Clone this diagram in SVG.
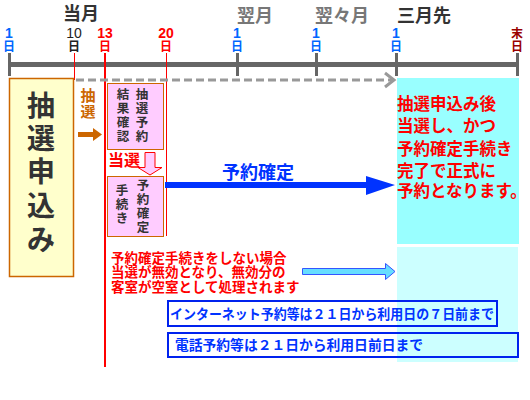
<svg xmlns="http://www.w3.org/2000/svg" width="530" height="400" viewBox="0 0 530 400">
<style>
.j{font-family:"Noto Sans CJK JP","Noto Sans",sans-serif;font-weight:bold}
.d{font-family:"Liberation Sans",Arial,sans-serif;font-size:14px;text-anchor:middle}
.m{text-anchor:middle}
</style>
<rect width="530" height="400" fill="#fff"/>
<!-- cyan areas -->
<rect x="397" y="78" width="122" height="166" fill="#99ffff"/>
<rect x="397" y="247" width="121" height="115" fill="#ccffff"/>
<!-- month labels -->
<g id="months" class="j" font-size="18">
<text x="63" y="20" fill="#333">当月</text>
<text x="237" y="22" fill="#777">翌月</text>
<text x="315" y="22" fill="#777">翌々月</text>
<text x="397" y="22" fill="#333">三月先</text>
</g>
<!-- day labels -->
<g id="days">
<text class="d" x="9" y="38" fill="#0066ff" font-weight="bold">1</text>
<text class="d" x="74" y="38" fill="#222">10</text>
<text class="d" x="105" y="38" fill="#ff0000" font-weight="bold">13</text>
<text class="d" x="166" y="38" fill="#ff0000" font-weight="bold">20</text>
<text class="d" x="237" y="38" fill="#0066ff" font-weight="bold">1</text>
<text class="d" x="316" y="38" fill="#0066ff" font-weight="bold">1</text>
<text class="d" x="396" y="38" fill="#0066ff" font-weight="bold">1</text>
<text class="j m" x="517" y="37.5" font-size="12" fill="#990000">末</text>
<g class="j m" font-size="12">
<text x="9" y="51" fill="#0066ff">日</text>
<text x="74" y="51" fill="#222">日</text>
<text x="105" y="51" fill="#ff0000">日</text>
<text x="166" y="51" fill="#ff0000">日</text>
<text x="237" y="51" fill="#0066ff">日</text>
<text x="316" y="51" fill="#0066ff">日</text>
<text x="396" y="51" fill="#0066ff">日</text>
<text x="517" y="51" fill="#990000">日</text>
</g>
</g>
<!-- timeline -->
<g id="timeline" stroke="#666" stroke-width="3">
<line x1="8" y1="64.5" x2="519" y2="64.5" stroke-width="5"/>
<line x1="9.5" y1="53" x2="9.5" y2="76"/>
<line x1="237.5" y1="53" x2="237.5" y2="76"/>
<line x1="316.5" y1="53" x2="316.5" y2="76"/>
<line x1="396.5" y1="53" x2="396.5" y2="76"/>
<line x1="517.5" y1="53" x2="517.5" y2="76"/>
</g>
<!-- red day lines -->
<g id="daylines" stroke="#ff0000">
<line x1="74.5" y1="53" x2="74.5" y2="80" stroke-width="1"/>
<line x1="105" y1="53" x2="105" y2="367" stroke-width="2"/>
<line x1="166.5" y1="53" x2="166.5" y2="236" stroke-width="1"/>
</g>
<!-- left box -->
<g id="apply">
<rect x="9.5" y="78.5" width="64" height="198" fill="#ffffcc" stroke="#cc6600" stroke-width="1.5"/>
<g class="j m" font-size="28" fill="#333">
<text x="41" y="116">抽</text>
<text x="41" y="149">選</text>
<text x="41" y="182">申</text>
<text x="41" y="216">込</text>
<text x="41" y="250">み</text>
</g>
</g>
<!-- lottery label -->
<g id="lottery" class="j m" font-size="15" fill="#cc6600">
<text x="88" y="101">抽</text>
<text x="88" y="117">選</text>
</g>
<!-- pink box 1 -->
<g id="result">
<rect x="107.5" y="83.5" width="56" height="66" fill="#ffccff" stroke="#cc6600" stroke-width="1"/>
<g class="j m" font-size="12.5" fill="#333">
<text x="142" y="99">抽</text><text x="142" y="113">選</text><text x="142" y="127">予</text><text x="142" y="141">約</text>
<text x="123" y="99">結</text><text x="123" y="113">果</text><text x="123" y="127">確</text><text x="123" y="141">認</text>
</g>
</g>
<text id="win" class="j" x="108" y="166" font-size="16" fill="#ff0000">当選</text>
<!-- pink box 2 -->
<g id="confirmproc">
<rect x="107.5" y="176.5" width="56" height="60" fill="#ffccff" stroke="#cc6600" stroke-width="1"/>
<g class="j m" font-size="12.5" fill="#333">
<text x="143" y="190">予</text><text x="143" y="204">約</text><text x="143" y="218">確</text><text x="143" y="232">定</text>
<text x="122" y="195">手</text><text x="122" y="209">続</text><text x="122" y="223">き</text>
</g>
</g>
<!-- connectors -->
<g id="connectors">
<line x1="76" y1="80" x2="392" y2="80" stroke="#999" stroke-width="3" stroke-dasharray="8,4"/>
<polyline points="385,73 394,80 385,87" fill="none" stroke="#999" stroke-width="3"/>
<polygon points="78,132 93,132 93,128 102,134.5 93,141 93,137 78,137" fill="#cc6600"/>
<polygon points="145,152.5 155,152.5 155,167.5 162,167.5 150,175 138,167.5 145,167.5" fill="#ffccff" stroke="#ff0000" stroke-width="1"/>
<polygon points="165,182 366,182 366,176 395,185 366,195 366,188 165,188" fill="#0033ff"/>
<polygon points="302.5,268.5 385.5,268.5 385.5,263.5 395,271.5 385.5,279.5 385.5,274.5 302.5,274.5" fill="#66ddff" stroke="#3355ff" stroke-width="1"/>
</g>
<text id="confirm" class="j" x="222" y="179" font-size="18" fill="#0033ff">予約確定</text>
<!-- cyan text -->
<g id="note" class="j" font-size="16.5" fill="#ff0000">
<text x="397" y="110">抽選申込み後</text>
<text x="397" y="132">当選し、かつ</text>
<text x="397" y="155">予約確定手続き</text>
<text x="397" y="177">完了で正式に</text>
<text x="397" y="197">予約となります。</text>
</g>
<g id="cancel" class="j" font-size="13.5" fill="#ff0000">
<text x="111" y="263">予約確定手続きをしない場合</text>
<text x="111" y="277">当選が無効となり、無効分の</text>
<text x="111" y="292">客室が空室として処理されます</text>
</g>
<!-- blue boxes -->
<g id="net">
<rect x="168" y="301" width="329" height="25" fill="none" stroke="#0022ee" stroke-width="2"/>
<text class="j" x="170" y="319" font-size="13.5" fill="#0033ff" textLength="324" lengthAdjust="spacingAndGlyphs">インターネット予約等は２１日から利用日の７日前まで</text>
</g>
<g id="tel">
<rect x="168" y="333" width="350" height="24" fill="none" stroke="#0022ee" stroke-width="2"/>
<text class="j" x="175" y="350" font-size="13.5" fill="#0033ff" textLength="248" lengthAdjust="spacingAndGlyphs">電話予約等は２１日から利用日前日まで</text>
</g>
</svg>
